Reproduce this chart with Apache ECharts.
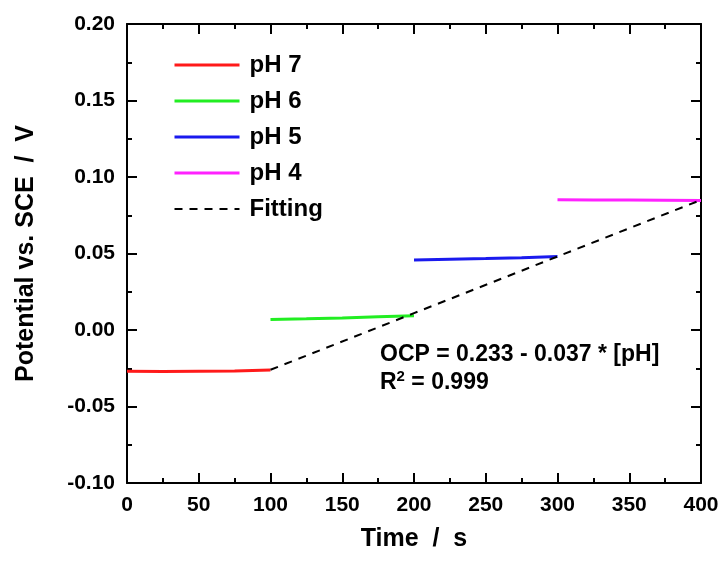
<!DOCTYPE html>
<html>
<head>
<meta charset="utf-8">
<script src="https://cdn.jsdelivr.net/npm/echarts@6/dist/echarts.min.js"></script>
<style>html,body{margin:0;padding:0;background:#fff}#c{width:723px;height:565px}</style>
</head>
<body>
<div id="c"></div>
<script>
// Data
const ph7 = [[0, -0.0270], [25, -0.0272], [50, -0.0270], [75, -0.0268], [100, -0.0262]];
const ph6 = [[100, 0.0068], [125, 0.0073], [150, 0.0079], [175, 0.0086], [200, 0.0093]];
const ph5 = [[200, 0.0457], [225, 0.0462], [250, 0.0467], [275, 0.0473], [300, 0.0481]];
const ph4 = [[300, 0.0851], [325, 0.0850], [350, 0.0849], [375, 0.0848], [400, 0.0847]];
const fitting = [[100, -0.026], [200, 0.011], [300, 0.048], [400, 0.085]];
const seriesNames = ['pH 7', 'pH 6', 'pH 5', 'pH 4', 'Fitting'];
const seriesColors = ['#ff1a1a', '#22ee22', '#1a1aee', '#ff22ff', '#000000'];
const xTicks = [0, 400, 50];
const yTicks = [-0.10, 0.20, 0.05];

const font = 'Liberation Sans, Arial, sans-serif';
const chart = echarts.init(document.getElementById('c'));
function axisBase() {
  return {
    axisLine: {show: true, onZero: false, lineStyle: {color: '#000', width: 2}},
    axisTick: {show: true, inside: true, length: 10, lineStyle: {color: '#000', width: 2}},
    minorTick: {show: true, splitNumber: 2, length: 5, lineStyle: {color: '#000', width: 2}},
    splitLine: {show: false},
    minorSplitLine: {show: false}
  };
}
const mk = (name, i) => ({
  name, type: 'line', showSymbol: false, symbol: 'none',
  data: [ph7, ph6, ph5, ph4, fitting][i],
  lineStyle: {color: seriesColors[i], width: i === 4 ? 2 : 3, type: i === 4 ? [8, 7] : 'solid'},
  itemStyle: {color: seriesColors[i]},
  z: i === 4 ? 3 : 2,
  animation: false
});
chart.setOption({
  animation: false,
  grid: {left: 127, right: 22, top: 24, bottom: 82, containLabel: false},
  legend: {
    orient: 'vertical', left: 173, top: 52, padding: 0, itemWidth: 65, itemHeight: 14, itemGap: 10,
    itemStyle: {opacity: 0},
    textStyle: {fontFamily: font, fontWeight: 'bold', fontSize: 24, lineHeight: 26, color: '#000', padding: [0, 0, 0, 5]},
    data: seriesNames.map((n, i) => ({name: n, lineStyle: {width: i === 4 ? 2 : 3}}))
  },
  xAxis: [
    Object.assign(axisBase(), {
      type: 'value', min: xTicks[0], max: xTicks[1], interval: xTicks[2],
      name: 'Time  /  s', nameLocation: 'middle', nameGap: 44,
      nameTextStyle: {fontFamily: font, fontWeight: 'bold', fontSize: 25, color: '#000'},
      axisLabel: {fontFamily: font, fontWeight: 'bold', fontSize: 21, color: '#000', margin: 12}
    }),
    Object.assign(axisBase(), {
      type: 'value', position: 'top', min: xTicks[0], max: xTicks[1], interval: xTicks[2],
      axisLabel: {show: false}
    })
  ],
  yAxis: [
    Object.assign(axisBase(), {
      type: 'value', min: yTicks[0], max: yTicks[1], interval: yTicks[2],
      name: 'Potential vs. SCE  /  V', nameLocation: 'middle', nameGap: 88,
      nameTextStyle: {fontFamily: font, fontWeight: 'bold', fontSize: 25, color: '#000'},
      axisLabel: {fontFamily: font, fontWeight: 'bold', fontSize: 21, color: '#000', margin: 12,
        formatter: v => v.toFixed(2)}
    }),
    Object.assign(axisBase(), {
      type: 'value', position: 'right', min: yTicks[0], max: yTicks[1], interval: yTicks[2],
      axisLabel: {show: false}
    })
  ],
  series: seriesNames.map(mk),
  graphic: [
    {type: 'text', left: 380, top: 343, style: {text: 'OCP = 0.233 - 0.037 * [pH]', font: 'bold 23px ' + font, fill: '#000'}},
    {type: 'text', left: 380, top: 369, style: {
      text: '{a|R}{s|2}{a| = 0.999}',
      rich: {a: {font: 'bold 23px ' + font, fill: '#000', verticalAlign: 'bottom'},
             s: {font: 'bold 15px ' + font, fill: '#000', verticalAlign: 'top', padding: [0, 0, 10, 0]}}
    }}
  ]
});
</script>
</body>
</html>
